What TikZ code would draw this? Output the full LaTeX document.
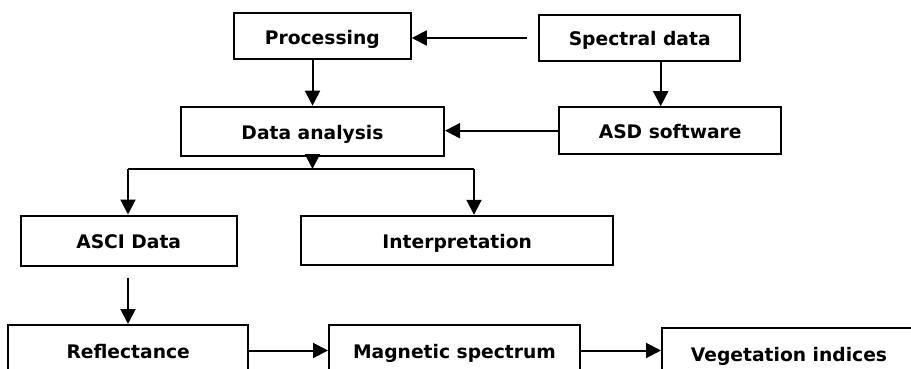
\documentclass[tikz,border=0pt]{standalone}
\usepackage{fontspec}
\setmainfont{DejaVu Sans}
\usetikzlibrary{arrows.meta}
\begin{document}
\begin{tikzpicture}[x=1pt,y=-1pt,
  box/.style={draw,line width=2pt,inner sep=0pt,text height=15.8pt,text depth=0pt,font=\fontsize{18.7}{22}\selectfont\bfseries},
  arr/.style={line width=2pt,-{Triangle[length=15pt,width=15pt]}}]
\useasboundingbox (0,0) rectangle (911,369);
\node[box,minimum width=177pt,minimum height=46pt] (proc) at (322.3,36.2) {Processing};
\node[box,minimum width=201pt,minimum height=46pt] (spec) at (639.7,38) {Spectral data};
\node[box,minimum width=263pt,minimum height=49pt] (anal) at (312.5,131.2) {Data analysis};
\node[box,minimum width=222pt,minimum height=47pt] (asd) at (670.2,130.7) {ASD software};
\node[box,minimum width=216pt,minimum height=50pt] (asci) at (128.7,240.5) {ASCI Data};
\node[box,minimum width=312pt,minimum height=49pt] (interp) at (457.2,240.3) {Interpretation};
\node[box,minimum width=240pt,minimum height=51pt] (refl) at (128.2,350.5) {Reflectance};
\node[box,minimum width=251pt,minimum height=51pt] (magn) at (454.5,350.5) {Magnetic spectrum};
\node[box,minimum width=254pt,minimum height=51pt] (veg) at (789,353.2) {Vegetation indices};
\coordinate (bl) at (128,169);
\coordinate (br) at (474,169);
\draw[arr,shorten <=11pt] (spec.west) -- (spec.west -| proc.east);
\draw[arr] (proc.south -| anal.north) -- (anal.north);
\draw[arr] ([xshift=21pt]spec.south) -- ([xshift=21pt]spec.south |- asd.north);
\draw[arr] (asd.west) -- (asd.west -| anal.east);
\draw[arr] (anal.south) -- (anal.south |- bl);
\draw[line width=2pt] (bl) -- (br);
\draw[arr] (bl) -- (bl |- asci.north);
\draw[arr] (br) -- (br |- interp.north);
\draw[arr,shorten <=11pt] (asci.south -| bl) -- (bl |- refl.north);
\draw[arr] (refl.east) -- (refl.east -| magn.west);
\draw[arr] (magn.east) -- (magn.east -| veg.west);
\end{tikzpicture}
\end{document}
